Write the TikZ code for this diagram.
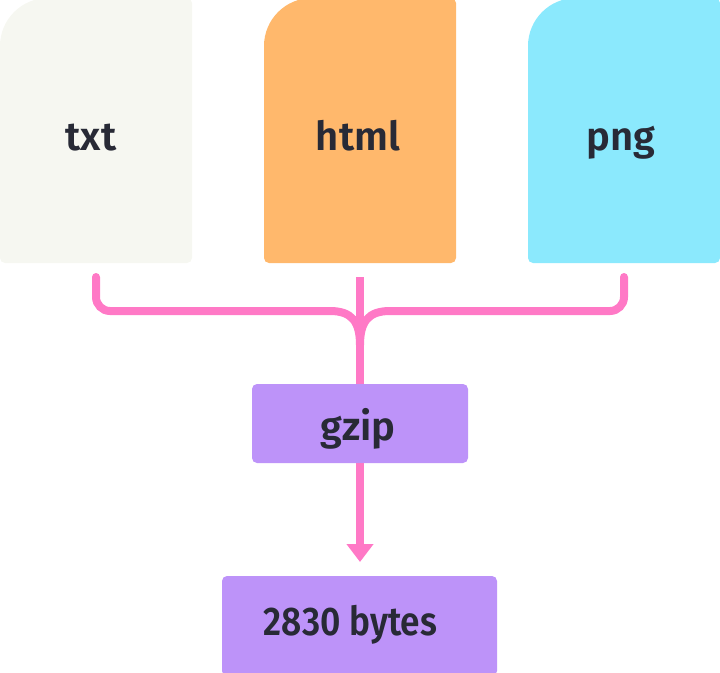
\documentclass[tikz,border=0pt]{standalone}
\usepackage{fontspec}
\setmainfont{Fira Sans}[UprightFont=* SemiBold, BoldFont=* Bold]
\newfontfamily\narrowfont{Fira Sans SemiBold}[FakeStretch=0.88]
\usetikzlibrary{arrows.meta}
\definecolor{txtc}{HTML}{F6F7F1}
\definecolor{htmlc}{HTML}{FFB86C}
\definecolor{pngc}{HTML}{8BE9FD}
\definecolor{pinkc}{HTML}{FF79C6}
\definecolor{purpc}{HTML}{BD93F9}
\definecolor{inkc}{HTML}{282A36}
\tikzset{
  lbl/.style={text=inkc, font=\fontsize{40}{40}\selectfont, anchor=base, inner sep=0pt},
  conn/.style={draw=pinkc, line width=8pt, line cap=round},
  box/.style={fill=purpc, rounded corners=5pt, inner sep=0pt}
}
\begin{document}
\begin{tikzpicture}[x=1pt,y=-1pt]
\useasboundingbox (0,0) rectangle (720,672);
% file shapes
\foreach \xx/\cc in {0/txtc,264/htmlc,528/pngc}{
  \fill[\cc] (\xx,263) [rounded corners=5pt] -- (\xx+192,263) -- (\xx+192,-2)
     [rounded corners=48pt] -- (\xx,-2) [rounded corners=5pt] -- cycle;
}
\node[lbl] (txt) at (91,150) {txt};
\node[lbl] (html) at (358,150) {html};
\node[lbl] (png) at (621,150) {png};
\coordinate (ts) at (96,277);
\coordinate (hs) at (360,277);
\coordinate (ps) at (624,277);
% process boxes
\node[box, minimum width=216pt, minimum height=79pt] (gzip) at (360,423.5) {};
\node[lbl] (gziptxt) at (358,440) {gzip};
\node[box, minimum width=275pt, minimum height=100pt] (out) at (359.5,626) {};
\node[lbl, font=\narrowfont\fontsize{40}{40}\selectfont] (outtxt) at (350.5,635) {2830 bytes};
% connectors
\draw[conn] (ts) [rounded corners=14pt] -- (96,311) [sharp corners] -- (330,311)
   .. controls (352,311) and (360,322) .. (360,345);
\draw[conn] (ps) [rounded corners=14pt] -- (624,311) [sharp corners] -- (390,311)
   .. controls (368,311) and (360,322) .. (360,345);
\draw[conn, line cap=butt] (hs) -- (gzip.north);
\draw[pinkc, line width=8pt, -{Triangle[width=26pt,length=18pt]}] (gzip.south) -- (360,562);
\end{tikzpicture}
\end{document}
